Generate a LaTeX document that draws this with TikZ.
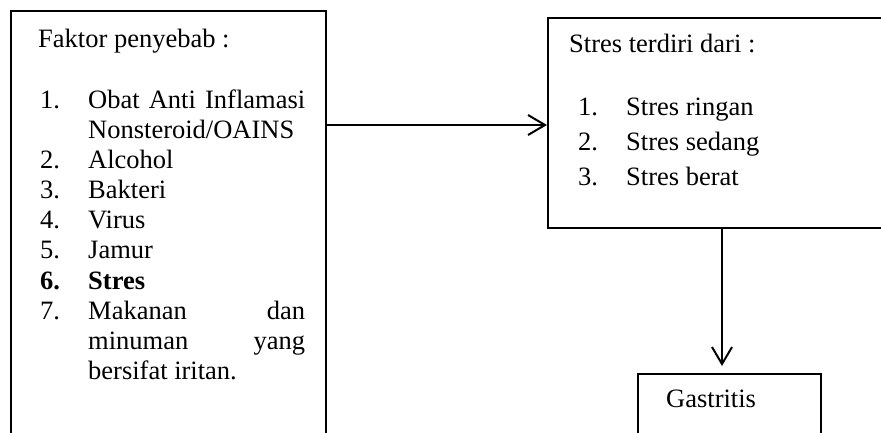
\documentclass[tikz,border=0pt]{standalone}
\usepackage{fontspec}
\setmainfont{Liberation Serif}
\usetikzlibrary{arrows.meta}
\tikzset{
  box/.style={draw=black, line width=2pt, rectangle, inner sep=0pt, anchor=north west},
  txt/.style={anchor=base west, inner sep=0pt, font=\fontsize{26.5}{30}\selectfont},
  arr/.style={line width=2pt, -{Straight Barb[length=17pt,width=20pt,line width=2pt]}}
}
\begin{document}
\begin{tikzpicture}[x=1pt,y=-1pt]
\useasboundingbox (0,0) rectangle (881,432);
\clip (0,0) rectangle (881,432);
% boxes
\node[box, minimum width=315pt, minimum height=470pt] (faktor) at (10,10) {};
\node[box, minimum width=360pt, minimum height=210pt] (stres) at (547,17) {};
\node[box, minimum width=183pt, minimum height=100pt] (gast) at (637,373) {};
% left text
\node[txt] (f0) at (38,47) {Faktor penyebab :};
\node[txt] (n1) at (40,108) {1.};
\node[txt] (i1a) at (88,108) {\makebox[217pt][s]{Obat Anti Inflamasi}};
\node[txt] (i1b) at (88,138) {Nonsteroid/OAINS};
\node[txt] (n2) at (40,168) {2.};
\node[txt] (i2) at (88,168) {Alcohol};
\node[txt] (n3) at (40,198) {3.};
\node[txt] (i3) at (88,198) {Bakteri};
\node[txt] (n4) at (40,228) {4.};
\node[txt] (i4) at (88,228) {Virus};
\node[txt] (n5) at (40,258) {5.};
\node[txt] (i5) at (88,258) {Jamur};
\node[txt] (n6) at (40,289) {\bfseries 6.};
\node[txt] (i6) at (88,289) {\bfseries Stres};
\node[txt] (n7) at (40,319) {7.};
\node[txt] (i7a) at (88,319) {\makebox[217pt][s]{Makanan dan}};
\node[txt] (i7b) at (88,349) {\makebox[217pt][s]{minuman yang}};
\node[txt] (i7c) at (88,379) {bersifat iritan.};
% right text
\node[txt] (s0) at (569,52) {Stres terdiri dari :};
\node[txt] (m1) at (578,115) {1.};
\node[txt] (r1) at (626,115) {Stres ringan};
\node[txt] (m2) at (578,150) {2.};
\node[txt] (r2) at (626,150) {Stres sedang};
\node[txt] (m3) at (578,185) {3.};
\node[txt] (r3) at (626,185) {Stres berat};
% gastritis
\node[txt] (g0) at (666,407) {Gastritis};
% connectors
\coordinate (h) at (325,125);
\coordinate (v) at (722,300);
\draw[arr] (faktor.east |- h) -- (stres.west |- h);
\draw[arr] (stres.south -| v) -- ([yshift=7pt]gast.north -| v);
\end{tikzpicture}
\end{document}
